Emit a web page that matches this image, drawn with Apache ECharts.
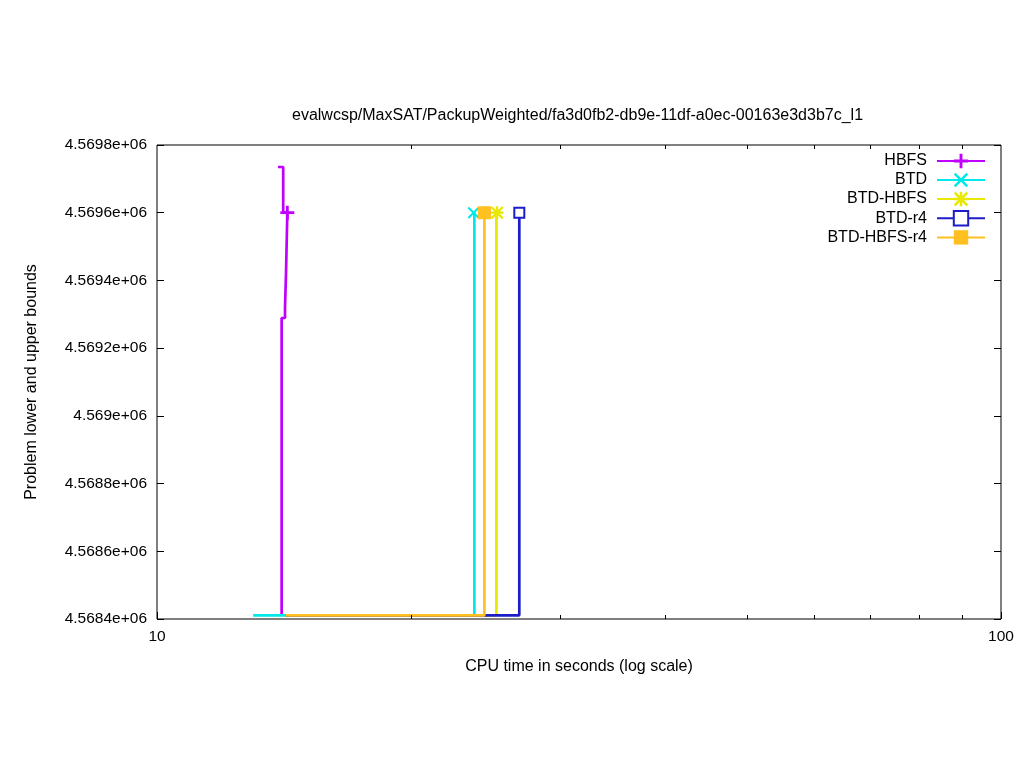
<!DOCTYPE html>
<html><head><meta charset="utf-8">
<script src="https://cdn.jsdelivr.net/npm/echarts@6/dist/echarts.min.js"></script>
<style>html,body{margin:0;padding:0;background:#fff}#chart{width:1024px;height:768px}</style>
</head><body><div id="chart"></div>
<script>
const titleText = 'evalwcsp/MaxSAT/PackupWeighted/fa3d0fb2-db9e-11df-a0ec-00163e3d3b7c_l1';
const xAxisName = 'CPU time in seconds (log scale)';
const yAxisName = 'Problem lower and upper bounds';
const seriesNames = ['HBFS', 'BTD', 'BTD-HBFS', 'BTD-r4', 'BTD-HBFS-r4'];
const seriesColors = ['#c000ff', '#00e8e8', '#e8e800', '#1c1cc8', '#ffc020'];

// path points (time in seconds, bound value)
const hbfsTime  = [14.05, 14.05, 14.18, 14.18, 14.22, 14.22, 14.27, 14.27, 14.11, 14.11, 13.91];
const hbfsBound = [4568411, 4569289, 4569289, 4569321, 4569321, 4569425, 4569425, 4569600, 4569600, 4569735, 4569735];
const btdTime  = [13.0, 23.77, 23.77, 23.72];
const btdBound = [4568411, 4568411, 4569600, 4569600];
const btdHbfsTime  = [14.21, 25.24, 25.24, 25.29];
const btdHbfsBound = [4568411, 4568411, 4569600, 4569600];
const btdR4Time  = [14.21, 26.87, 26.87];
const btdR4Bound = [4568411, 4568411, 4569600];
const btdHbfsR4Time  = [14.21, 24.43, 24.43];
const btdHbfsR4Bound = [4568411, 4568411, 4569600];
// index of the point carrying the marker
const markerIndex = [7, 3, 3, 2, 2];

const xMin = 10, xMax = 100;
const yMin = 4568400, yMax = 4569800, yStep = 200;
const xMinorTicks = [20, 30, 40, 50, 60, 70, 80, 90];

const FONT = 'Liberation Sans, Arial, sans-serif';
const plusPath = 'path://M-1.4,-7L1.4,-7L1.4,-1.4L7,-1.4L7,1.4L1.4,1.4L1.4,7L-1.4,7L-1.4,1.4L-7,1.4L-7,-1.4L-1.4,-1.4Z';
const xPath = 'path://M-6,-8L8,6L6,8L-8,-6ZM-8,6L6,-8L8,-6L-6,8Z';
const starPath = 'path://M-6,-8L8,6L6,8L-8,-6ZM-8,6L6,-8L8,-6L-6,8ZM-1.4,-8L1.4,-8L1.4,-1.4L8,-1.4L8,1.4L1.4,1.4L1.4,8L-1.4,8L-1.4,1.4L-8,1.4L-8,-1.4L-1.4,-1.4Z';
const symbols = [plusPath, xPath, starPath, 'emptyRect', 'rect'];
const symbolSizes = [14, 12, 13, 10, 13];

const times = [hbfsTime, btdTime, btdHbfsTime, btdR4Time, btdHbfsR4Time];
const bounds = [hbfsBound, btdBound, btdHbfsBound, btdR4Bound, btdHbfsR4Bound];

function fmtY(v) {
  let s = (v / 1e6).toPrecision(5);
  if (s.indexOf('.') >= 0) s = s.replace(/0+$/, '').replace(/\.$/, '');
  return s + 'e+06';
}

const lineSeries = seriesNames.map((name, k) => ({
  name: name,
  type: 'line',
  xAxisIndex: 0, yAxisIndex: 0,
  color: seriesColors[k],
  symbol: symbols[k],
  symbolSize: symbolSizes[k],
  showAllSymbol: true,
  lineStyle: { width: 2.7, color: seriesColors[k] },
  itemStyle: k === 3 ? { color: seriesColors[k], borderColor: seriesColors[k], borderWidth: 2.6 } : { color: seriesColors[k], borderWidth: 0 },
  animation: false,
  z: 2 + k,
  data: times[k].map((t, i) => i === markerIndex[k] ? { value: [t, bounds[k][i]] } : { value: [t, bounds[k][i]], symbol: 'none' })
}));

const tickSeries = {
  type: 'custom',
  silent: true,
  animation: false,
  clip: false,
  z: 10,
  data: xMinorTicks.map(v => [v, yMin]),
  renderItem: function (params, api) {
    const x = api.coord([api.value(0), yMin])[0];
    const top = params.coordSys.y, bottom = params.coordSys.y + params.coordSys.height;
    const st = { stroke: '#000', lineWidth: 1 };
    return { type: 'group', children: [
      { type: 'line', shape: { x1: Math.round(x) + 0.5, y1: bottom, x2: Math.round(x) + 0.5, y2: bottom - 4 }, style: st },
      { type: 'line', shape: { x1: Math.round(x) + 0.5, y1: top, x2: Math.round(x) + 0.5, y2: top + 4 }, style: st }
    ]};
  }
};

const chart = echarts.init(document.getElementById('chart'), null, { renderer: 'canvas' });
chart.setOption({
  backgroundColor: '#fff',
  animation: false,
  textStyle: { fontFamily: FONT },
  title: {
    text: titleText, left: 287, top: 103,
    textStyle: { fontSize: 16, fontWeight: 'normal', color: '#000', fontFamily: FONT }
  },
  grid: { left: 157, right: 23, top: 145, bottom: 149, show: true, borderColor: '#000', borderWidth: 1, backgroundColor: 'transparent' },
  legend: {
    orient: 'vertical', right: 33, top: 148, align: 'right',
    itemWidth: 48, itemHeight: 18, itemGap: 3,
    textStyle: { fontSize: 16, color: '#000', fontFamily: FONT, padding: [0, 5, 0, 0] },
    data: seriesNames
  },
  xAxis: [{
    type: 'log', logBase: 10, min: xMin, max: xMax,
    name: xAxisName, nameLocation: 'middle', nameGap: 40,
    nameTextStyle: { fontSize: 16, color: '#000', fontFamily: FONT },
    axisLine: { show: false },
    axisTick: { show: true, inside: true, length: 7, lineStyle: { color: '#000' } },
    axisLabel: { color: '#000', fontSize: 15.5, fontFamily: FONT, margin: 10 },
    splitLine: { show: false }
  }],
  yAxis: [{
    type: 'value', min: yMin, max: yMax, interval: yStep,
    name: yAxisName, nameLocation: 'middle', nameGap: 117, nameRotate: 90,
    nameTextStyle: { fontSize: 16, color: '#000', fontFamily: FONT },
    axisLine: { show: false },
    axisTick: { show: true, inside: true, length: 7, lineStyle: { color: '#000' } },
    axisLabel: { color: '#000', fontSize: 15.5, fontFamily: FONT, margin: 10, formatter: fmtY },
    splitLine: { show: false }
  }, {
    type: 'value', min: yMin, max: yMax, interval: yStep, position: 'right',
    axisLine: { show: false },
    axisTick: { show: true, inside: true, length: 7, lineStyle: { color: '#000' } },
    axisLabel: { show: false },
    splitLine: { show: false }
  }],
  series: lineSeries.concat([tickSeries])
});
</script></body></html>
